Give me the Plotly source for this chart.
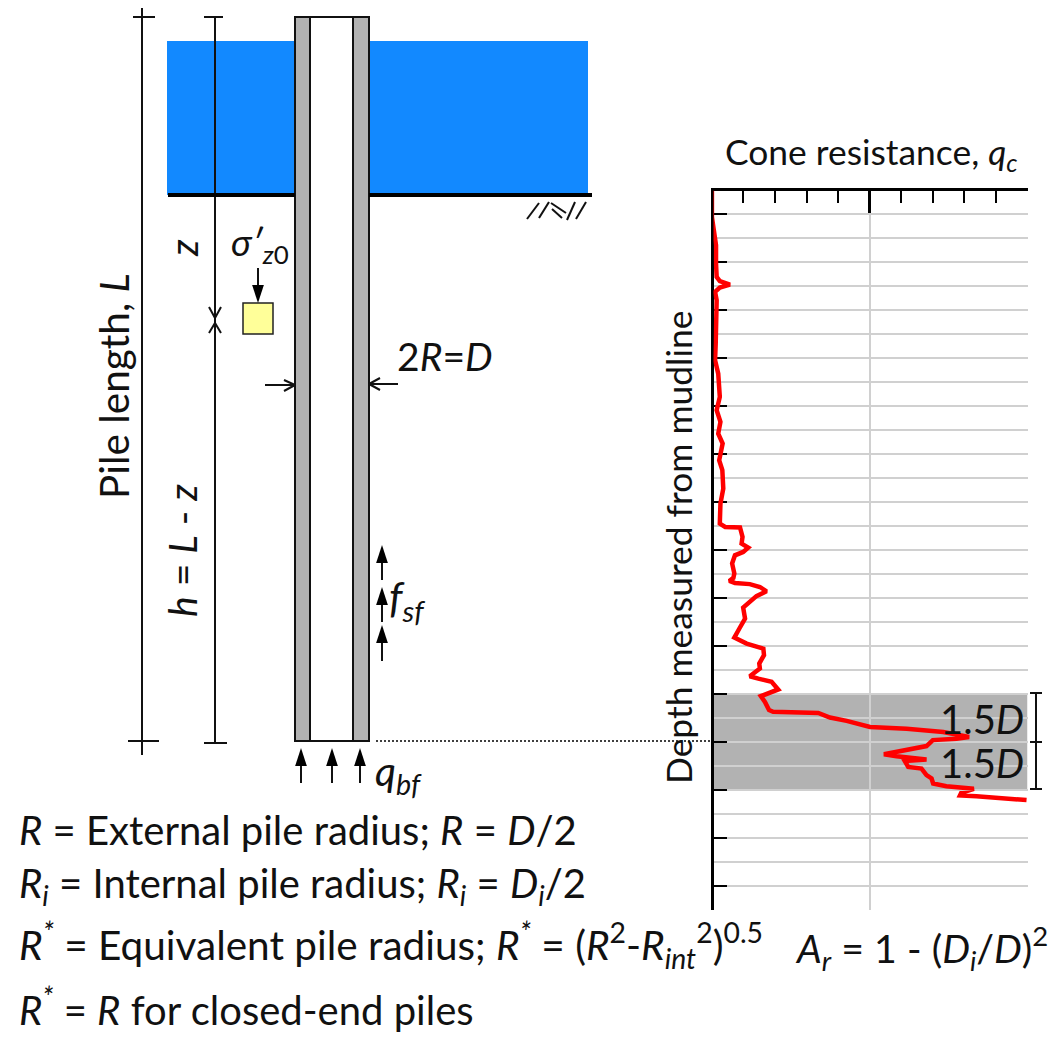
"""Pile schematic next to a cone resistance profile."""
import plotly.graph_objects as go

FONT = "Lato, Noto Sans, sans-serif"
W, H = 1050, 1037

# cone resistance profile (q_c in % of the axis, depth in grid rows)
depth = [0, 1.14, 1.69, 2.32, 3.08, 3.64, 3.81, 3.96, 4.08, 4.26, 4.61, 5.58, 6.42, 7.11, 7.67,
         8.64, 9.19, 9.68, 10.17, 10.58, 10.93, 11.28, 11.69, 12.46, 13.08, 13.92, 14.06, 14.08,
         14.47, 14.75, 14.92, 15.1, 15.24, 15.58, 16.0, 16.18, 16.31, 16.39, 16.44, 16.56, 16.74,
         16.94, 17.42, 17.88, 18.29, 18.67, 18.92, 19.13, 19.4, 19.75, 19.96, 20.28, 20.38, 20.51,
         20.83, 20.97, 21.11, 21.35, 21.69, 21.76, 21.81, 22.0, 22.14, 22.39, 22.47, 22.6, 22.81,
         22.88, 22.94, 23.19, 23.33, 23.53, 23.61, 23.71, 23.75, 23.81, 24.06, 24.13, 24.4, 24.54,
         24.75, 24.86, 24.97, 25.14, 25.25, 25.28, 25.44]
qc = [0, 0, 0.6, 1.3, 1.3, 1.5, 2.5, 5.7, 2.5, 1.0, 1.5, 1.5, 1.2, 1.0, 2.0,
      2.5, 1.5, 2.7, 2.0, 3.4, 2.7, 2.3, 3.3, 3.6, 2.7, 2.5, 4.2, 8.9,
      9.7, 9.4, 11.5, 9.9, 7.3, 6.4, 7.1, 6.8, 5.5, 7.3, 12.0, 15.2, 17.3,
      14.1, 9.9, 10.5, 8.7, 7.1, 11.0, 16.3, 16.5, 15.0, 15.2, 12.0, 14.7, 18.9,
      21.0, 18.4, 15.5, 16.8, 18.1, 19.4, 33.7, 37.4, 42.7, 50.1, 61.7, 73.3, 81.5,
      77.5, 70.0, 68.0, 61.7, 54.5, 58.5, 63.8, 68.0, 61.1, 62.2, 66.4, 68.0, 69.6,
      70.1, 74.3, 83.0, 79.0, 78.6, 83.8, 99.7]
band_depth = [21, 25]

# schematic outlines, in picture pixels
water = (167, 41, 588, 195)
pile_outer = (295, 17, 369, 741)
pile_inner = (310, 17, 353, 741)
soil_box = (243, 303, 273, 334)
thin_lines = [
    [(142, 8), (142, 755)], [(133, 17), (155, 17)], [(128, 741), (159, 741)],
    [(215, 17), (215, 744)], [(204, 17), (223, 17)], [(204, 743), (227, 743)],
    [(209, 307), (215, 318), (221, 307)], [(209, 333), (215, 323), (221, 333)],
    [(527, 219), (539, 203)], [(539, 218), (549, 202)], [(551, 203), (566, 213)],
    [(552, 209), (562, 218)], [(567, 220), (575, 202)], [(576, 219), (586, 202)],
    [(1036, 693), (1036, 790)], [(1030, 693), (1042, 693)],
    [(1030, 742), (1042, 742)], [(1030, 789), (1042, 789)],
    [(265, 385), (295, 385)], [(284, 380), (295, 385), (284, 391)],
    [(398, 384), (369, 384)], [(380, 378), (369, 384), (380, 390)],
]
mudline = [[(168, 195), (295, 195)], [(369, 195), (592, 195)]]
dotted_line = [(376, 741), (865, 741)]
arrow_shafts = [
    [(258, 268), (258, 295)],
    [(382, 580), (382, 553)], [(382, 622), (382, 595)], [(382, 661), (382, 633)],
    [(301, 783), (301, 756)], [(332, 783), (332, 756)], [(360, 783), (360, 756)],
]
arrow_tip_x = [258, 382, 382, 382, 301, 332, 360]
arrow_tip_y = [303, 545, 587, 625, 748, 748, 748]
arrow_tip_angle = [180, 0, 0, 0, 0, 0, 0]

labels = [
    ("Cone resistance, <i>q<sub>c</sub></i>", 723, 153, 35.4),
    ("<i>σ′<sub>z</sub></i><sub>0</sub>", 229, 244, 37),
    ("2<i>R</i>=<i>D</i>", 395, 356, 39),
    ("<i>f<sub>sf</sub></i>", 387, 600, 42),
    ("<i>q<sub>bf</sub></i>", 373, 773, 41),
    ("1.5<i>D</i>", 938, 719, 40),
    ("1.5<i>D</i>", 938, 763, 40),
    ("<i>R</i> = External pile radius; <i>R</i> = <i>D</i>/2", 17, 830, 40),
    ("<i>R<sub>i</sub></i> = Internal pile radius; <i>R<sub>i</sub></i> = <i>D<sub>i</sub></i>/2", 17, 885, 40),
    ("<i>R<sup>*</sup></i> = Equivalent pile radius; <i>R<sup>*</sup></i> = (<i>R</i><sup>2</sup>-<i>R<sub>int</sub></i><sup>2</sup>)<sup>0.5</sup>", 17, 945, 40.5),
    ("<i>R<sup>*</sup></i> = <i>R</i> for closed-end piles", 17, 1007, 40),
    ("<i>A<sub>r</sub></i> = 1 - (<i>D<sub>i</sub></i>/<i>D</i>)<sup>2</sup>", 793, 948, 39.3),
]
rotated_labels = [
    ("Pile length, <i>L</i>", 113, 386, 40.5),
    ("<i>z</i>", 183, 248, 39),
    ("<i>h</i> = <i>L</i> - <i>z</i>", 182, 551, 39),
    ("Depth measured from mudline", 678, 548, 35.4),
]


def polyline(parts):
    xs, ys = [], []
    for part in parts:
        xs += [p[0] for p in part] + [None]
        ys += [p[1] for p in part] + [None]
    return xs, ys


fig = go.Figure()

# schematic, drawn on pixel axes
x, y = polyline(thin_lines + arrow_shafts)
fig.add_trace(go.Scatter(x=x, y=y, mode="lines", line=dict(color="#111", width=2), hoverinfo="skip"))
x, y = polyline(mudline)
fig.add_trace(go.Scatter(x=x, y=y, mode="lines", line=dict(color="#000", width=4), hoverinfo="skip"))
x, y = polyline([dotted_line])
fig.add_trace(go.Scatter(x=x, y=y, mode="lines", line=dict(color="#000", width=1.5, dash="2px,2px"), hoverinfo="skip"))
fig.add_trace(go.Scatter(x=arrow_tip_x, y=arrow_tip_y, mode="markers", hoverinfo="skip",
                         marker=dict(symbol="arrow", size=19, angle=arrow_tip_angle, color="#000", line_width=0)))

# profile on its own axes
fig.add_trace(go.Scatter(x=qc, y=depth, mode="lines", line=dict(color="#ff0000", width=4.5),
                         xaxis="x2", yaxis="y2", hoverinfo="skip", cliponaxis=False))

shapes = [
    dict(type="rect", x0=water[0], y0=water[1], x1=water[2], y1=water[3], fillcolor="#1289ff",
         line_width=0, layer="below"),
    dict(type="rect", x0=pile_outer[0], y0=pile_outer[1], x1=pile_outer[2], y1=pile_outer[3],
         fillcolor="#b2b2b2", line=dict(color="#111", width=2), layer="below"),
    dict(type="rect", x0=pile_inner[0], y0=pile_inner[1], x1=pile_inner[2], y1=pile_inner[3],
         fillcolor="#ffffff", line=dict(color="#111", width=2), layer="below"),
    dict(type="rect", x0=soil_box[0], y0=soil_box[1], x1=soil_box[2], y1=soil_box[3],
         fillcolor="#ffff99", line=dict(color="#222", width=1.5), layer="below"),
    dict(type="rect", xref="x2", yref="y2", x0=0.5, x1=100, y0=band_depth[0], y1=band_depth[1],
         fillcolor="#b2b2b2", line_width=0, layer="below"),
]

annotations = []
for text, lx, ly, size in labels:
    annotations.append(dict(x=lx, y=ly, xref="x", yref="y", text=text, showarrow=False, xanchor="left",
                            yanchor="middle", font=dict(family=FONT, size=size, color="#111")))
for text, lx, ly, size in rotated_labels:
    annotations.append(dict(x=lx, y=ly, xref="x", yref="y", text=text, showarrow=False, xanchor="center",
                            yanchor="middle", textangle=-90, font=dict(family=FONT, size=size, color="#111")))

fig.update_layout(
    width=W, height=H, autosize=False, showlegend=False,
    margin=dict(l=0, r=0, t=0, b=0),
    paper_bgcolor="white", plot_bgcolor="rgba(0,0,0,0)",
    xaxis=dict(range=[0, W], domain=[0, 1], visible=False, fixedrange=True),
    yaxis=dict(range=[H, 0], domain=[0, 1], visible=False, fixedrange=True),
    xaxis2=dict(domain=[713.5 / W, 1027.5 / W], range=[0.5, 100], anchor="y2", side="top", layer="below traces",
                showline=True, linecolor="#000", linewidth=3, zeroline=False,
                showticklabels=False, dtick=50, ticks="inside", ticklen=22, tickwidth=2.5, tickcolor="#000",
                showgrid=True, gridcolor="#d0d0d0", gridwidth=2,
                minor=dict(dtick=10, ticks="inside", ticklen=12, tickwidth=2, tickcolor="#000", showgrid=False)),
    yaxis2=dict(domain=[1 - 909.5 / H, 1 - 190.8 / H], range=[30, 0.05], anchor="x2", layer="below traces",
                showline=True, linecolor="#000", linewidth=3, zeroline=False,
                showticklabels=False, tick0=1, dtick=2, ticks="inside", ticklen=13, tickwidth=2, tickcolor="#000",
                showgrid=True, gridcolor="#d0d0d0", gridwidth=2,
                minor=dict(tick0=0, dtick=1, showgrid=True, gridcolor="#d0d0d0", gridwidth=2, ticks="")),
    shapes=shapes, annotations=annotations,
)

fig.write_html("out.html", config={"displayModeBar": False}, post_script="document.body.style.margin='0';")
